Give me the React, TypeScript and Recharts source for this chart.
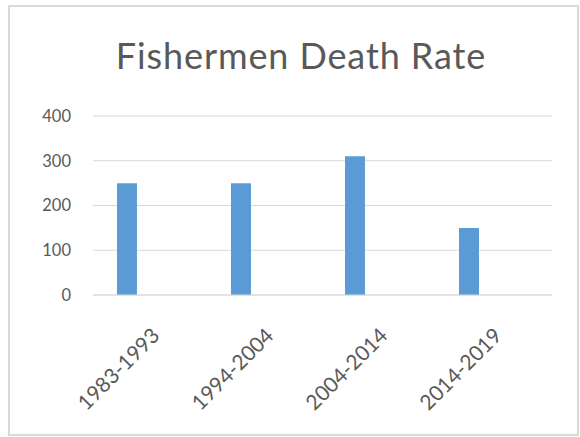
import React from 'react';
import { BarChart, Bar, XAxis, YAxis, CartesianGrid } from 'recharts';

// chart values
const periods = ['1983-1993', '1994-2004', '2004-2014', '2014-2019'];
const deathRates = [250, 250, 310, 150];
const yTicks = [0, 100, 200, 300, 400];

const data = periods.map((period, i) => ({ idx: i, period, rate: deathRates[i] }));

const TEXT = '#595959';
const FONT = 'Lato, "Open Sans", sans-serif';

const RotatedTick = ({ x, y, payload }: any) => {
  const label = periods[payload.value] ?? '';
  const x0 = x + 34;
  const y0 = y + 34;
  return (
    <text
      x={x0}
      y={y0}
      transform={`rotate(-45, ${x0}, ${y0})`}
      textAnchor="end"
      fill={TEXT}
      fontSize={21}
      fontFamily={FONT}
    >
      {label}
    </text>
  );
};

const App: React.FC = () => {
  return (
    <div style={{ position: 'absolute', left: 0, top: 0, width: 580, height: 437, background: '#fff' }}>
      {/* chart frame */}
      <div
        style={{
          position: 'absolute',
          left: 8,
          top: 5,
          width: 567,
          height: 427,
          border: '2px solid #d9d9d9',
        }}
      />
      <svg width={580} height={437} style={{ position: 'absolute', left: 0, top: 0 }}>
        <text
          x={301}
          y={69}
          textAnchor="middle"
          fill={TEXT}
          fontSize={36}
          letterSpacing={0.9}
          fontFamily={FONT}
        >
          Fishermen Death Rate
        </text>
      </svg>
      <div style={{ position: 'absolute', left: 0, top: 0 }}>
        <BarChart
          width={580}
          height={437}
          data={data}
          margin={{ top: 116, right: 28, bottom: 42, left: 0 }}
        >
          <CartesianGrid vertical={false} stroke="#d9d9d9" strokeWidth={1} />
          <XAxis
            dataKey="idx"
            type="number"
            domain={[-0.298, 3.728]}
            ticks={[0, 1, 2, 3]}
            interval={0}
            height={100}
            axisLine={{ stroke: '#d9d9d9' }}
            tickLine={false}
            tick={<RotatedTick />}
          />
          <YAxis
            width={93}
            domain={[0, 400]}
            ticks={yTicks}
            axisLine={false}
            tickLine={false}
            tickSize={0}
            tickMargin={22}
            tick={{ fill: TEXT, fontSize: 16.5, fontFamily: FONT }}
          />
          <Bar dataKey="rate" fill="#5b9bd5" barSize={20} isAnimationActive={false} />
        </BarChart>
      </div>
    </div>
  );
};

export default App;
